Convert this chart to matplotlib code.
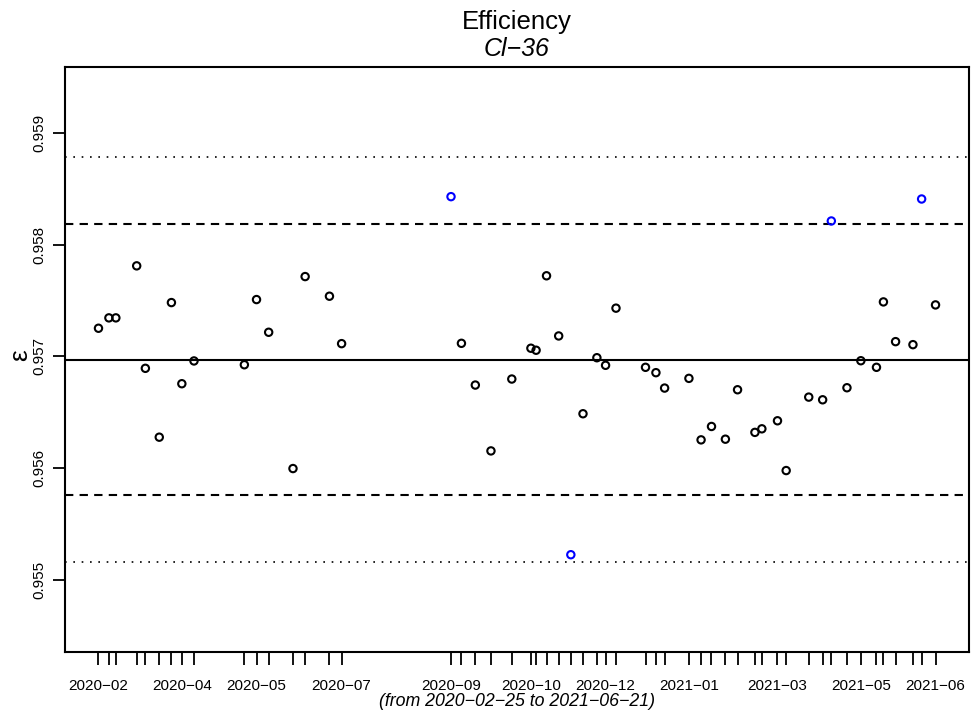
import datetime as dt

import matplotlib

matplotlib.use("Agg")

import matplotlib.dates as mdates  # noqa: E402
import matplotlib.pyplot as plt  # noqa: E402

dates = [
    "2020-02-25", "2020-03-02", "2020-03-06", "2020-03-18", "2020-03-23", "2020-03-31",
    "2020-04-07", "2020-04-13", "2020-04-20", "2020-05-19", "2020-05-26", "2020-06-02",
    "2020-06-16", "2020-06-23", "2020-07-07", "2020-07-14", "2020-09-15", "2020-09-21",
    "2020-09-29", "2020-10-08", "2020-10-20", "2020-10-31", "2020-11-03", "2020-11-09",
    "2020-11-16", "2020-11-23", "2020-11-30", "2020-12-08", "2020-12-13", "2020-12-19",
    "2021-01-05", "2021-01-11", "2021-01-16", "2021-01-30", "2021-02-06", "2021-02-12",
    "2021-02-20", "2021-02-27", "2021-03-09", "2021-03-13", "2021-03-22", "2021-03-27",
    "2021-04-09", "2021-04-17", "2021-04-22", "2021-05-01", "2021-05-09", "2021-05-18",
    "2021-05-22", "2021-05-29", "2021-06-08", "2021-06-13", "2021-06-21",
]
efficiency = [
    0.957253, 0.957346, 0.957346, 0.957812, 0.956894, 0.956277,
    0.957483, 0.956756, 0.956960, 0.956926, 0.957510, 0.957217,
    0.955996, 0.957716, 0.957540, 0.957115, 0.958432, 0.957118,
    0.956744, 0.956154, 0.956798, 0.957074, 0.957056, 0.957723,
    0.957184, 0.955224, 0.956487, 0.956989, 0.956921, 0.957433,
    0.956903, 0.956855, 0.956717, 0.956804, 0.956253, 0.956373,
    0.956259, 0.956702, 0.956320, 0.956352, 0.956424, 0.955978,
    0.956636, 0.956612, 0.958214, 0.956720, 0.956962, 0.956903,
    0.957489, 0.957133, 0.957106, 0.958411, 0.957462,
]
center = 0.956973   # solid line
sigma = 0.000606    # dashed = 2 sigma, dotted = 3 sigma
y_ticks = [0.955, 0.956, 0.957, 0.958, 0.959]

plt.rcParams["font.family"] = ["Liberation Sans", "DejaVu Sans"]
MINUS = "\u2212"

days = [dt.date.fromisoformat(d) for d in dates]
x = mdates.date2num(days)

fig = plt.figure(figsize=(9.79, 7.12), dpi=100)
W, H = 979, 712
ax = fig.add_axes([65 / W, 1 - 651.7 / H, (969 - 65) / W, (651.7 - 67.3) / H])

# reference lines
ax.axhline(center, color="black", lw=1.5)
for k, ls, lw in [(2, (0, (4, 3)), 1.5), (3, (0, (1, 4)), 1.2)]:
    ax.axhline(center + k * sigma, color="black", lw=lw, linestyle=ls)
    ax.axhline(center - k * sigma, color="black", lw=lw, linestyle=ls)

# points outside the 2-sigma band in blue
cols = ["blue" if abs(v - center) > 2 * sigma else "black" for v in efficiency]
ax.scatter(x, efficiency, s=28, facecolors="none", edgecolors=cols, linewidths=1.5, zorder=3)

# R-style limits: 4% padding
span = x[-1] - x[0]
ax.set_xlim(x[0] - 0.04 * span, x[-1] + 0.04 * span)
half = 4 * sigma * 1.08
ax.set_ylim(center - half, center + half)

# a tick at every date, labels only where they don't crowd (like R's axis)
labels = []
last = None
for d in days:
    if last is None or (d - last).days >= 43:
        labels.append(d.strftime("%Y-%m").replace("-", MINUS))
        last = d
    else:
        labels.append("")
ax.set_xticks(x)
ax.set_xticklabels(labels, fontsize=11)
ax.tick_params(axis="x", length=9.5, width=1.3, pad=10)

ax.set_yticks(y_ticks)
ax.set_yticklabels([f"{t:.3f}" for t in y_ticks], rotation=90, va="center", fontsize=11)
ax.tick_params(axis="y", length=8.5, width=1.3, pad=5)

for s in ax.spines.values():
    s.set_linewidth(1.5)

fig.text(517 / W, 1 - 22 / H, "Efficiency", ha="center", va="center", fontsize=18.5)
fig.text(517 / W, 1 - 49 / H, f"Cl{MINUS}36", ha="center", va="center", fontsize=18, style="italic")
fig.text(517 / W, 1 - 702 / H, f"(from {dates[0]} to {dates[-1]})".replace("-", MINUS),
         ha="center", va="center", fontsize=12.8, style="italic")
fig.text(20 / W, 1 - 355 / H, "\u03b5", rotation=90, ha="center", va="center", fontsize=19)

fig.savefig("out.png", dpi=100)
